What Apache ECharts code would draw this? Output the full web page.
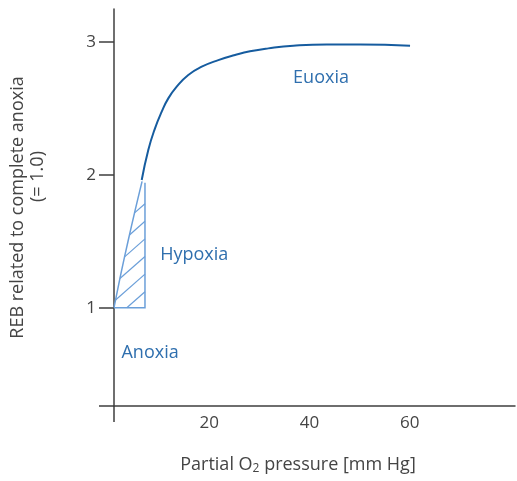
<!DOCTYPE html>
<html>
<head>
<meta charset="utf-8">
<title>REB vs partial O2 pressure</title>
<script src="https://cdn.jsdelivr.net/npm/echarts@6/dist/echarts.min.js"></script>
<style>html,body{margin:0;padding:0;background:#fff;}</style>
</head>
<body>
<div id="main" style="width:517px;height:481px;"></div>
<script type="text/javascript">
// tick values
var xTicks = [20, 40, 60];
var yTicks = [1, 2, 3];

// euoxia curve
var curveX = [6.53, 7.84, 9.18, 10.52, 11.83, 13.51, 15.82, 18.50, 21.81, 25.14, 28.13, 31.78, 36.77, 43.43, 50.08, 60.06];
var curveY = [1.96, 2.186, 2.349, 2.474, 2.574, 2.662, 2.750, 2.812, 2.862, 2.90, 2.928, 2.95, 2.97, 2.98, 2.98, 2.97];

// hypoxia wedge: lower piece of the curve, then right edge down to the base
var wedgeX = [1, 2.4, 3.8, 5.2, 6.6, 7.18, 7.18];
var wedgeY = [1, 1.26, 1.50, 1.73, 1.95, 1.94, 1];

// zone labels
var zoneNames = ['Euoxia', 'Hypoxia', 'Anoxia'];
var zoneX = [42.3, 17.0, 8.2];
var zoneY = [2.73, 1.40, 0.66];

var X_MIN = 1, X_MAX = 81;
var Y_MIN = 0.261, Y_MAX = 3.246;

var axisColor = '#3f3f3f';
var textColor = '#444';
var darkBlue = '#165c9f';
var lightBlue = '#6b9fd9';
var zoneColor = '#2f6fae';
var font = '"Open Sans", sans-serif';

var myChart = echarts.init(document.getElementById('main'));

// draws the wedge outline plus its hatching
function renderWedge(params, api) {
	var pts = wedgeX.map(function (x, i) { return api.coord([x, wedgeY[i]]); });
	var n = pts.length;
	var curvePts = pts.slice(0, n - 2);
	var rightX = pts[n - 1][0];
	var baseY = pts[n - 1][1];
	var children = [{
		type: 'polyline',
		shape: { points: curvePts, smooth: 0.3 },
		style: { fill: null, stroke: lightBlue, lineWidth: 1.5 }
	}, {
		type: 'polyline',
		shape: { points: [pts[n - 2], pts[n - 1], pts[0]] },
		style: { fill: null, stroke: lightBlue, lineWidth: 1.5 }
	}];
	// edges the hatch lines may end on
	var edges = [];
	for (var i = 0; i < curvePts.length - 1; i++) edges.push([curvePts[i], curvePts[i + 1]]);
	edges.push([pts[n - 1], pts[0]]);
	var dx = -1, dy = 0.88;
	for (var k = 0; k < 6; k++) {
		var y0 = baseY - 16 - k * 17.6;
		var best = null;
		edges.forEach(function (e) {
			var ax = e[0][0], ay = e[0][1], bx = e[1][0] - ax, by = e[1][1] - ay;
			var den = dx * by - dy * bx;
			if (Math.abs(den) < 1e-9) return;
			var t = ((ax - rightX) * by - (ay - y0) * bx) / den;
			var s = ((ax - rightX) * dy - (ay - y0) * dx) / den;
			if (t > 0.5 && s >= -0.001 && s <= 1.001 && (best === null || t < best)) best = t;
		});
		if (best !== null) {
			children.push({
				type: 'line',
				shape: { x1: rightX, y1: y0, x2: rightX + dx * best, y2: y0 + dy * best },
				style: { stroke: lightBlue, lineWidth: 1.2 }
			});
		}
	}
	return { type: 'group', children: children };
}

var option = {
	animation: false,
	grid: { left: 114, right: 2, top: 9, bottom: 75 },
	xAxis: {
		type: 'value',
		min: X_MIN,
		max: X_MAX,
		splitLine: { show: false },
		axisLine: { onZero: false, lineStyle: { color: axisColor, width: 1.5 } },
		axisTick: { show: true, customValues: [X_MIN], length: 16, lineStyle: { color: axisColor, width: 1.5 } },
		axisLabel: { customValues: xTicks, margin: 9, color: textColor, fontSize: 17, fontFamily: font },
		name: 'Partial O{s|2} pressure [mm Hg]',
		nameLocation: 'middle',
		nameGap: 49,
		nameTextStyle: {
			color: textColor, fontSize: 18, fontFamily: font, lineHeight: 20,
			padding: [0, 33, 0, 0],
			rich: { s: { fontSize: 12, lineHeight: 12, verticalAlign: 'bottom', color: textColor, fontFamily: font } }
		}
	},
	yAxis: {
		type: 'value',
		min: Y_MIN,
		max: Y_MAX,
		splitLine: { show: false },
		axisLine: { onZero: false, lineStyle: { color: axisColor, width: 1.5 } },
		axisTick: { show: true, customValues: [Y_MIN].concat(yTicks), length: 15, lineStyle: { color: axisColor, width: 1.5 } },
		axisLabel: { customValues: yTicks, margin: 18, color: textColor, fontSize: 17, fontFamily: font },
		name: 'REB related to complete anoxia\n{p|(= 1.0)}',
		nameLocation: 'middle',
		nameGap: 66,
		nameTextStyle: {
			color: textColor, fontSize: 18, fontFamily: font, lineHeight: 20,
			rich: { p: { fontSize: 18, lineHeight: 20, padding: [0, 0, 0, 62], color: textColor, fontFamily: font } }
		}
	},
	series: [{
		type: 'line',
		data: curveX.map(function (x, i) { return [x, curveY[i]]; }),
		smooth: 0.5,
		showSymbol: false,
		lineStyle: { color: darkBlue, width: 2 },
		z: 3
	}, {
		type: 'custom',
		data: [0],
		renderItem: renderWedge,
		clip: false,
		z: 2
	}, {
		type: 'scatter',
		symbolSize: 1,
		itemStyle: { color: 'rgba(0,0,0,0)', opacity: 1 },
		data: zoneNames.map(function (nm, i) { return [zoneX[i], zoneY[i], nm]; }),
		label: {
			show: true,
			position: 'inside',
			formatter: function (p) { return p.value[2]; },
			color: zoneColor,
			fontSize: 18,
			fontFamily: font
		}
	}]
};

myChart.setOption(option);
</script>
</body>
</html>
